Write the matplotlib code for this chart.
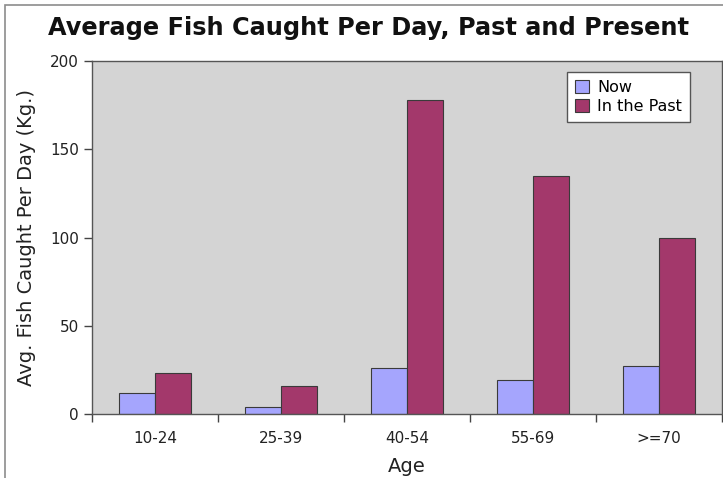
import matplotlib
matplotlib.use("Agg")
import matplotlib.pyplot as plt
from matplotlib.patches import Rectangle
import numpy as np

ages = ["10-24", "25-39", "40-54", "55-69", ">=70"]
now = [12, 4, 26, 19, 27]
past = [23, 16, 178, 135, 100]

NOW_COLOR = "#a5a5fd"
PAST_COLOR = "#a3386b"
EDGE = "#3a3a3a"

fig = plt.figure(figsize=(7.23, 4.78), dpi=100)
W, H = 723, 478

# outer frame of the original image (right/bottom side cut off)
fig.patches.append(Rectangle((5 / W, -0.1), 1.2, 1 - 5 / H + 0.1,
                             transform=fig.transFigure, fill=False,
                             edgecolor="#8c8c8c", linewidth=1.2))

ax = fig.add_axes([92 / W, 1 - 414 / H, 630 / W, 353 / H])
ax.set_facecolor("#d4d4d4")

x = np.arange(len(ages))
bw = 0.286
ax.bar(x - bw / 2, now, bw, color=NOW_COLOR, edgecolor=EDGE, linewidth=0.8, label="Now")
ax.bar(x + bw / 2, past, bw, color=PAST_COLOR, edgecolor=EDGE, linewidth=0.8, label="In the Past")

ax.set_xlim(-0.5, len(ages) - 0.5)
ax.set_ylim(0, 200)
ax.set_yticks([0, 50, 100, 150, 200])
ax.set_xticks(np.arange(len(ages) + 1) - 0.5)
ax.set_xticklabels([])
ax.set_xticks(x, minor=True)
ax.set_xticklabels(ages, minor=True)
ax.tick_params(axis="x", which="major", length=6, color="#444444", width=1)
ax.tick_params(axis="x", which="minor", length=0, pad=12, labelsize=11, labelcolor="#222222")
ax.tick_params(axis="y", length=6, color="#444444", width=1, labelsize=11, labelcolor="#222222")

for s in ax.spines.values():
    s.set_color("#555555")
    s.set_linewidth(1)

ax.set_xlabel("Age", fontsize=14, labelpad=8, color="#222222")
ax.set_ylabel("Avg. Fish Caught Per Day (Kg.)", fontsize=14, labelpad=10, color="#222222")

fig.text(48 / W, 1 - 28 / H, "Average Fish Caught Per Day, Past and Present",
         fontsize=17.3, fontweight="bold", va="center", ha="left", color="#111111")

leg = ax.legend(loc="upper right", bbox_to_anchor=(598 / 630, 1 - 11 / 353),
                fancybox=False, framealpha=1, edgecolor="#555555",
                fontsize=11.5, handlelength=0.9, handleheight=0.9,
                handletextpad=0.5, borderpad=0.5, labelspacing=0.25,
                borderaxespad=0)
leg.get_frame().set_linewidth(1)

fig.savefig("out.png", dpi=100)
